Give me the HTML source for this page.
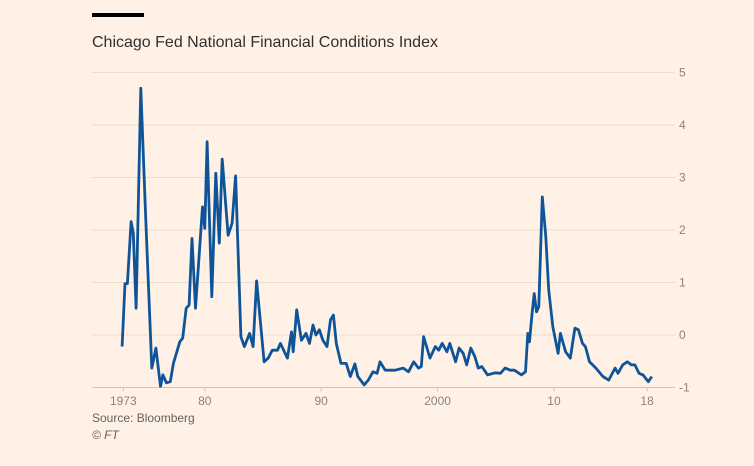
<!DOCTYPE html>
<html><head><meta charset="utf-8"><style>
body{margin:0;background:#fff1e5;width:754px;height:461px;overflow:hidden;font-family:"Liberation Sans",sans-serif}
</style></head><body>
<svg id="c" width="754" height="461">
<rect x="92" y="13" width="52" height="4" fill="#000"/>
<text x="92" y="47" font-size="16" fill="#33302e">Chicago Fed National Financial Conditions Index</text>
<g id="grid"></g><g id="xt"></g>
<path id="line" fill="none" stroke="#0f5499" stroke-width="2.8" stroke-linejoin="round"/>
<text x="92" y="422" font-size="12" fill="#66605c">Source: Bloomberg</text>
<text x="92" y="439" font-size="12" font-style="italic" fill="#66605c">© FT</text>
</svg>
<script>
const years=[1972.9,1973.15,1973.35,1973.67,1973.86,1974.1,1974.5,1974.9,1975.45,1975.8,1976.2,1976.4,1976.7,1977.04,1977.3,1977.85,1978.1,1978.4,1978.65,1978.9,1979.2,1979.8,1980,1980.2,1980.6,1980.95,1981.25,1981.5,1982.0,1982.35,1982.65,1983.1,1983.4,1983.85,1984.15,1984.45,1985.1,1985.45,1985.8,1986.25,1986.5,1987.1,1987.45,1987.6,1987.9,1988.3,1988.7,1989.0,1989.3,1989.55,1989.85,1990.15,1990.5,1990.8,1991.05,1991.3,1991.7,1992.15,1992.5,1992.9,1993.15,1993.7,1994.05,1994.45,1994.8,1995.05,1995.5,1996.35,1997.05,1997.5,1997.95,1998.35,1998.6,1998.8,1999.35,1999.8,2000.1,2000.4,2000.8,2001.05,2001.55,2001.85,2002.2,2002.5,2002.85,2003.2,2003.5,2003.8,2004.3,2004.95,2005.4,2005.8,2006.25,2006.6,2007.2,2007.55,2007.75,2007.9,2008.1,2008.3,2008.5,2008.7,2009.0,2009.3,2009.55,2009.9,2010.35,2010.55,2011.0,2011.4,2011.8,2012.1,2012.45,2012.7,2013.05,2013.6,2014.2,2014.7,2015.25,2015.5,2015.9,2016.3,2016.65,2016.95,2017.3,2017.65,2018.1,2018.4];
const values=[-0.22,0.98,0.98,2.16,1.94,0.51,4.70,2.38,-0.63,-0.25,-0.98,-0.76,-0.91,-0.89,-0.54,-0.13,-0.06,0.51,0.57,1.84,0.51,2.44,2.03,3.68,0.73,3.08,1.75,3.35,1.90,2.13,3.03,-0.03,-0.22,0.03,-0.22,1.03,-0.51,-0.44,-0.29,-0.29,-0.16,-0.44,0.06,-0.32,0.48,-0.10,0.03,-0.16,0.19,0,0.1,-0.1,-0.22,0.29,0.38,-0.16,-0.54,-0.54,-0.79,-0.55,-0.79,-0.95,-0.86,-0.70,-0.73,-0.51,-0.67,-0.67,-0.63,-0.70,-0.51,-0.63,-0.60,-0.03,-0.44,-0.22,-0.29,-0.16,-0.32,-0.16,-0.51,-0.25,-0.35,-0.57,-0.25,-0.41,-0.63,-0.60,-0.76,-0.72,-0.73,-0.63,-0.67,-0.67,-0.76,-0.70,0.03,-0.13,0.38,0.79,0.44,0.54,2.63,1.87,0.86,0.16,-0.35,0.03,-0.32,-0.44,0.13,0.1,-0.16,-0.22,-0.51,-0.63,-0.79,-0.86,-0.63,-0.73,-0.57,-0.51,-0.57,-0.57,-0.73,-0.76,-0.89,-0.79];
const yTicks=[5,4,3,2,1,0,-1];
const xTickYears=[1973,1980,1990,2000,2010,2018];
const xTickLabels=["1973","80","90","2000","10","18"];
const X=y=>123.3+(y-1973)*11.64, Y=v=>335-v*52.5;
const NS="http://www.w3.org/2000/svg";
const g=document.getElementById('grid'), xt=document.getElementById('xt');
yTicks.forEach(t=>{
 const l=document.createElementNS(NS,'line');
 l.setAttribute('x1',92);l.setAttribute('x2',675);l.setAttribute('y1',Y(t));l.setAttribute('y2',Y(t));
 l.setAttribute('stroke',t===-1?'#cfc4ba':'#e9dcd1');l.setAttribute('stroke-width',1);
 
 
 g.appendChild(l);
 const tx=document.createElementNS(NS,'text');
 tx.setAttribute('x',679);tx.setAttribute('y',Y(t)+4);tx.setAttribute('font-size',12);tx.setAttribute('fill','#8a837e');
 tx.textContent=t===-1?'-1':t;
 
 
 g.appendChild(tx);
});
xTickYears.forEach((yr,i)=>{
 const l=document.createElementNS(NS,'line');
 l.setAttribute('x1',X(yr));l.setAttribute('x2',X(yr));l.setAttribute('y1',Y(-1));l.setAttribute('y2',Y(-1)+4);
 l.setAttribute('stroke','#cfc4ba');
 
 
 xt.appendChild(l);
 const tx=document.createElementNS(NS,'text');
 tx.setAttribute('x',X(yr));tx.setAttribute('y',405);tx.setAttribute('font-size',12);tx.setAttribute('fill','#8a837e');tx.setAttribute('text-anchor','middle');
 tx.textContent=xTickLabels[i];
 
 
 xt.appendChild(tx);
});
document.getElementById('line').setAttribute('d',years.map((y,i)=>(i?'L':'M')+X(y).toFixed(1)+','+Y(values[i]).toFixed(1)).join(''));
</script>
</body></html>
